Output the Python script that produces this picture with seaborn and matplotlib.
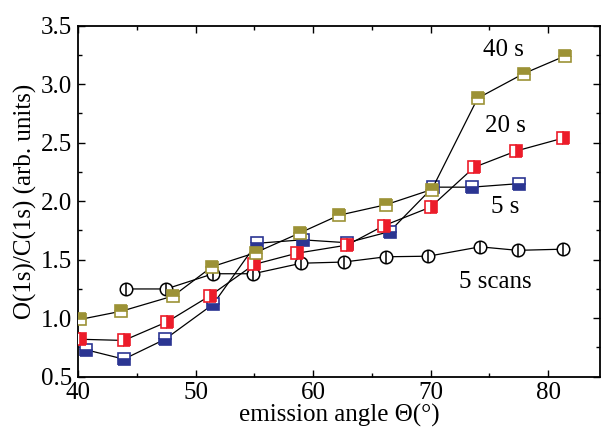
import matplotlib
matplotlib.use("Agg")
import matplotlib.pyplot as plt
from matplotlib.ticker import MultipleLocator
import seaborn as sns

# Emission-angle dependence of the O(1s)/C(1s) intensity ratio
angle_5scans = [44.1, 47.5, 51.5, 54.9, 59.0, 62.6, 66.2, 69.8, 74.2, 77.4, 81.25]
ratio_5scans = [1.25, 1.25, 1.38, 1.38, 1.47, 1.48, 1.525, 1.53, 1.61, 1.58, 1.59]

angle_5s = [40.7, 43.9, 47.4, 51.5, 55.2, 59.1, 62.9, 66.5, 70.2, 73.5, 77.5]
ratio_5s = [0.73, 0.65, 0.82, 1.12, 1.64, 1.67, 1.645, 1.74, 2.12, 2.12, 2.15]

angle_20s = [40.2, 43.9, 47.6, 51.2, 55.0, 58.6, 62.9, 66.0, 70.0, 73.7, 77.3, 81.3]
ratio_20s = [0.82, 0.81, 0.97, 1.19, 1.46, 1.555, 1.625, 1.79, 1.95, 2.29, 2.43, 2.54]

angle_40s = [40.2, 43.7, 48.1, 51.4, 55.1, 58.9, 62.2, 66.2, 70.1, 74.0, 77.9, 81.4]
ratio_40s = [0.99, 1.06, 1.19, 1.44, 1.56, 1.73, 1.88, 1.97, 2.10, 2.88, 3.09, 3.24]

series_labels = ["5 scans", "5 s", "20 s", "40 s"]
label_x = [75.5, 76.35, 76.35, 76.15]
label_y = [1.31, 1.95, 2.64, 3.29]

BLUE = "#2B3592"
RED = "#EC1C2A"
GOLD = "#9C9236"

sns.set_style("ticks")
plt.rcParams["font.family"] = ["Liberation Serif", "DejaVu Serif"]
plt.rcParams["text.color"] = "black"
plt.rcParams["axes.labelcolor"] = "black"
plt.rcParams["xtick.color"] = "black"
plt.rcParams["ytick.color"] = "black"

fig = plt.figure(figsize=(6.06, 4.34), dpi=100)
ax = fig.add_axes([0.1287, 0.132, 0.8613, 0.8088])

line_kw = dict(color="black", linewidth=0.9, sort=False, estimator=None)

# 5 scans: open circles crossed by a vertical bar
sns.lineplot(x=angle_5scans, y=ratio_5scans, ax=ax, marker="o", markersize=9,
             markerfacecolor="white", markeredgecolor="black",
             markeredgewidth=1.1, zorder=2, **line_kw)
ax.plot(angle_5scans, ratio_5scans, linestyle="none", marker="|",
        markersize=9, markeredgecolor="black", markeredgewidth=1.1, zorder=2.1)

# half-filled squares for the sputter-time series
square_kw = dict(marker="s", markersize=8.5, markerfacecoloralt="white",
                 markeredgewidth=1.2)
sns.lineplot(x=angle_5s, y=ratio_5s, ax=ax, fillstyle="bottom",
             markerfacecolor=BLUE, markeredgecolor=BLUE, zorder=3,
             **square_kw, **line_kw)
sns.lineplot(x=angle_20s, y=ratio_20s, ax=ax, fillstyle="right",
             markerfacecolor=RED, markeredgecolor=RED, zorder=4,
             **square_kw, **line_kw)
sns.lineplot(x=angle_40s, y=ratio_40s, ax=ax, fillstyle="top",
             markerfacecolor=GOLD, markeredgecolor=GOLD, zorder=5,
             **square_kw, **line_kw)

for text, tx, ty in zip(series_labels, label_x, label_y):
    ax.text(tx, ty, text, fontsize=18, ha="center", va="center", color="black")

ax.set_xlim(40, 84.4)
ax.set_ylim(0.5, 3.5)
ax.xaxis.set_major_locator(MultipleLocator(10))
ax.xaxis.set_minor_locator(MultipleLocator(5))
ax.yaxis.set_major_locator(MultipleLocator(0.5))
ax.yaxis.set_minor_locator(MultipleLocator(0.25))
ax.yaxis.set_major_formatter(plt.FormatStrFormatter("%.1f"))

ax.tick_params(which="both", direction="in", top=True, right=True,
               labelsize=18, colors="black", width=1.0, pad=4)
ax.tick_params(which="major", length=5)
ax.tick_params(which="minor", length=3)
for s in ax.spines.values():
    s.set_linewidth(1.3)
    s.set_color("black")

ax.set_xlabel("emission angle Θ(°)", fontsize=18, labelpad=0, color="black")
ax.set_ylabel("O(1s)/C(1s) (arb. units)", fontsize=18, labelpad=3, color="black")

fig.savefig("out.png", dpi=100)
